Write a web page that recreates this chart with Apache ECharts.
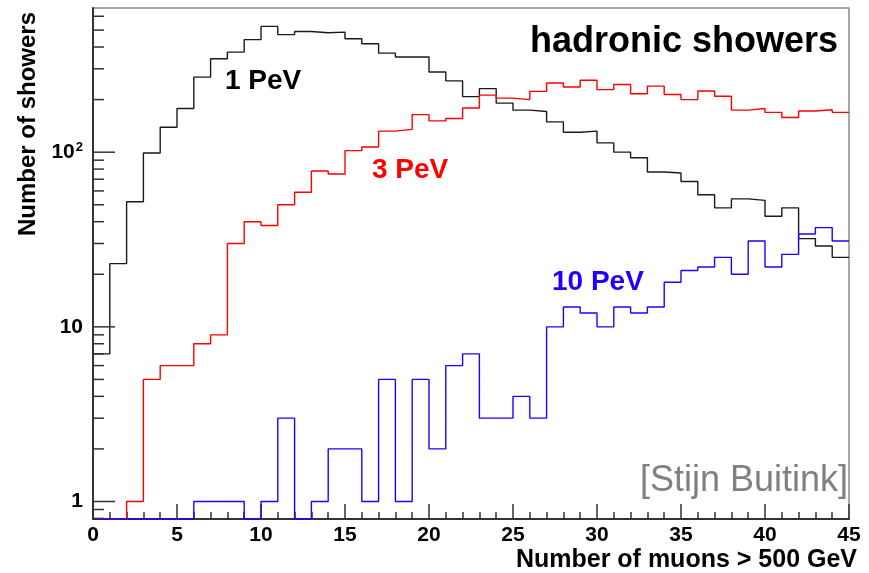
<!DOCTYPE html>
<html>
<head>
<meta charset="utf-8">
<script src="https://cdn.jsdelivr.net/npm/echarts@6/dist/echarts.min.js"></script>
<style>
html,body{margin:0;padding:0;background:#fff;}
#chart{width:869px;height:573px;}
</style>
</head>
<body>
<div id="chart"></div>
<script>
// ---- data (bin lower edges, bin width 1) ----
const binEdges = [0,1,2,3,4,5,6,7,8,9,10,11,12,13,14,15,16,17,18,19,20,21,22,23,24,25,26,27,28,29,30,31,32,33,34,35,36,37,38,39,40,41,42,43,44,45];
const seriesNames = ['1 PeV', '3 PeV', '10 PeV'];
const pev1 = [7,23,52,99,139,178,269,343,374,441,525,471,491,483,487,446,418,369,351,351,288,256,208,231,191,174,171,149,130,132,113,100,93,77,76,68,57,48,54,53,43,48,32,29,25];
const pev3 = [0,0,1,5,6,6,8,9,30,40,38,50,59,78,75,102,107,132,135,164,151,156,179,212,204,200,223,249,236,258,228,244,216,239,214,200,224,209,174,178,169,158,172,175,169];
const pev10 = [0,0,0,0,0,0,1,1,1,0,1,3,0,1,2,2,1,5,1,5,2,6,7,3,3,4,3,10,13,12,10,13,12,13,18,21,22,25,20,31,22,26,34,37,31];
const yMajorTicks = [1, 10, 100];
const yTickLabels = ['1', '10', '10²'];
const yMinorTicks = [0.8,0.9,2,3,4,5,6,7,8,9,20,30,40,50,60,70,80,90,200,300,400,500,600];
const xMin = 0, xMax = 45, xInterval = 5;
const yMin = 0.794, yMax = 669;

// ---- build ----
function histPoints(vals) {
  const pts = vals.map((v, i) => [binEdges[i], v > 0 ? v : yMin]);
  const last = vals[vals.length - 1];
  pts.push([binEdges[vals.length], last > 0 ? last : yMin]);
  return pts;
}
const colors = ['#1a1a1a', '#ff0000', '#2200ff'];
const font = 'Liberation Sans';

const tickData = yMajorTicks.map(v => [0, v, 1]).concat(yMinorTicks.map(v => [0, v, 0]));

const chart = echarts.init(document.getElementById('chart'), null, {renderer: 'canvas'});
const option = {
  animation: false,
  backgroundColor: '#fff',
  grid: {left: 93, right: 20, top: 8, bottom: 53, show: true, borderColor: '#8a8a8a', borderWidth: 1.5, backgroundColor: 'transparent'},
  xAxis: {
    type: 'value', min: xMin, max: xMax, interval: xInterval,
    axisLine: {show: true, lineStyle: {color: '#333', width: 2}},
    axisTick: {show: true, inside: true, length: 15, lineStyle: {color: '#333', width: 1.5}},
    minorTick: {show: true, splitNumber: 5, length: 7, lineStyle: {color: '#333', width: 1.5}},
    splitLine: {show: false},
    axisLabel: {margin: 6, fontSize: 21, fontWeight: 'bold', fontFamily: font, color: '#000'},
    name: 'Number of muons > 500 GeV', nameLocation: 'end', nameGap: 8,
    nameTextStyle: {align: 'right', verticalAlign: 'top', padding: [29, 0, 0, 0], fontSize: 25, fontWeight: 'bold', fontFamily: font, color: '#000'}
  },
  yAxis: {
    type: 'log', logBase: 10, min: yMin, max: yMax,
    axisLine: {show: true, lineStyle: {color: '#333', width: 2}},
    axisTick: {show: false},
    splitLine: {show: false},
    axisLabel: {
      margin: 10, fontSize: 21, fontWeight: 'bold', fontFamily: font, color: '#000',
      formatter: function (v) {
        for (let i = 0; i < yMajorTicks.length; i++) {
          if (Math.abs(Math.log10(v) - Math.log10(yMajorTicks[i])) < 1e-6) {
            return yTickLabels[i].replace(/²/, '{sup|2}');
          }
        }
        return '';
      },
      rich: {sup: {fontSize: 13, fontWeight: 'bold', fontFamily: font, color: '#000', verticalAlign: 'top', padding: [0, 0, 10, 1]}}
    },
    name: 'Number of showers', nameLocation: 'end', nameRotate: 90, nameGap: -4,
    nameTextStyle: {align: 'right', verticalAlign: 'bottom', padding: [0, 0, 53, 0], fontSize: 24, fontWeight: 'bold', fontFamily: font, color: '#000'}
  },
  series: [
    {
      type: 'custom', name: 'yticks', silent: true, clip: false, z: 5,
      data: tickData,
      encode: {x: 0, y: 1},
      renderItem: function (params, api) {
        const p = api.coord([api.value(0), api.value(1)]);
        const len = api.value(2) ? 22 : 11;
        return {type: 'line', shape: {x1: p[0], y1: p[1], x2: p[0] + len, y2: p[1]}, style: {stroke: '#333', lineWidth: 1.5}};
      }
    },
    {type: 'line', name: seriesNames[0], step: 'end', showSymbol: false, clip: false, data: histPoints(pev1), lineStyle: {color: colors[0], width: 1.4}, itemStyle: {color: colors[0]}, z: 2},
    {type: 'line', name: seriesNames[1], step: 'end', showSymbol: false, clip: false, data: histPoints(pev3), lineStyle: {color: colors[1], width: 1.4}, itemStyle: {color: colors[1]}, z: 3},
    {type: 'line', name: seriesNames[2], step: 'end', showSymbol: false, clip: false, data: histPoints(pev10), lineStyle: {color: colors[2], width: 1.4}, itemStyle: {color: colors[2]}, z: 4}
  ],
  graphic: [
    {type: 'text', z: 10, style: {text: 'hadronic showers', x: 838, y: 42, fill: '#000', font: 'bold 36px "Liberation Sans"', textAlign: 'right', textVerticalAlign: 'middle', align: 'right', verticalAlign: 'middle'}},
    {type: 'text', z: 10, style: {text: seriesNames[0], x: 225, y: 81, fill: '#000', font: 'bold 28px "Liberation Sans"', textAlign: 'left', textVerticalAlign: 'middle', align: 'left', verticalAlign: 'middle'}},
    {type: 'text', z: 10, style: {text: seriesNames[1], x: 372, y: 170, fill: colors[1], font: 'bold 28px "Liberation Sans"', textAlign: 'left', textVerticalAlign: 'middle', align: 'left', verticalAlign: 'middle'}},
    {type: 'text', z: 10, style: {text: seriesNames[2], x: 552, y: 282, fill: colors[2], font: 'bold 28px "Liberation Sans"', textAlign: 'left', textVerticalAlign: 'middle', align: 'left', verticalAlign: 'middle'}},
    {type: 'text', z: 10, style: {text: '[Stijn Buitink]', x: 848, y: 481, fill: '#808080', font: '36px "Liberation Sans"', textAlign: 'right', textVerticalAlign: 'middle', align: 'right', verticalAlign: 'middle'}}
  ]
};
chart.setOption(option);
</script>
</body>
</html>
